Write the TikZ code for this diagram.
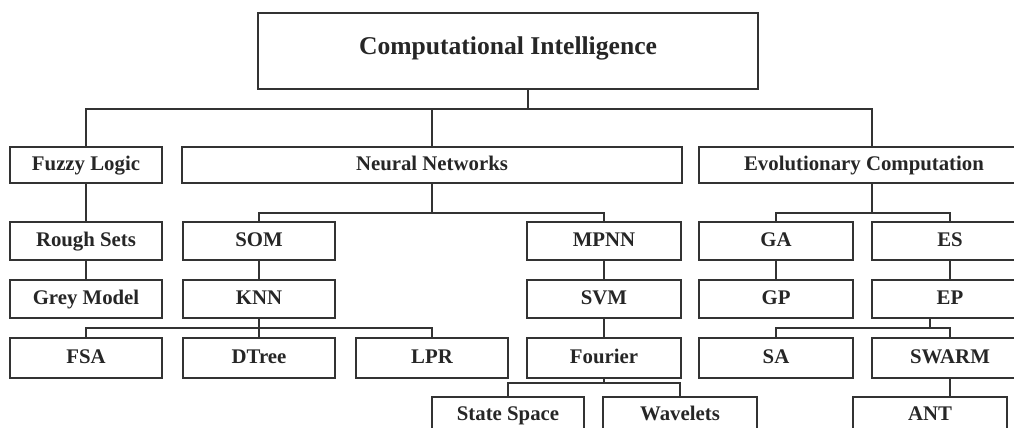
\documentclass[tikz,border=0pt]{standalone}
\usepackage{fontspec}
\setmainfont{Liberation Serif}
\definecolor{ink}{HTML}{333333}
\definecolor{txt}{HTML}{262626}
\tikzset{
  box/.style={draw=ink, line width=2pt, rectangle, inner sep=0pt,
    text=txt, font=\bfseries\fontsize{20.8}{24}\selectfont,
    text height=14pt, text depth=3pt, anchor=center},
  titlebox/.style={box, font=\bfseries\fontsize{25.6}{30}\selectfont,
    text height=16pt, text depth=8pt},
  link/.style={draw=ink, line width=2pt}
}
\begin{document}
\begin{tikzpicture}[x=1pt, y=-1pt]
\useasboundingbox (0,0) rectangle (1014,428);
\clip (0,0) rectangle (1014,428);

% root
\node[titlebox, minimum width=500pt, minimum height=76pt] (ci) at (508,51) {Computational Intelligence};

% first level
\node[box, minimum width=152pt, minimum height=36pt] (fl) at (86,165)  {Fuzzy Logic};
\node[box, minimum width=500pt, minimum height=36pt] (nn) at (432,165) {Neural Networks};
\node[box, minimum width=330pt, minimum height=36pt] (ec) at (864,165) {Evolutionary Computation};

% second level
\node[box, minimum width=152pt, minimum height=38pt] (rs)   at (86,241)  {Rough Sets};
\node[box, minimum width=152pt, minimum height=38pt] (som)  at (259,241) {SOM};
\node[box, minimum width=154pt, minimum height=38pt] (mpnn) at (604,241) {MPNN};
\node[box, minimum width=154pt, minimum height=38pt] (ga)   at (776,241) {GA};
\node[box, minimum width=156pt, minimum height=38pt] (es)   at (950,241) {ES};

% third level
\node[box, minimum width=152pt, minimum height=38pt] (gm)  at (86,299)  {Grey Model};
\node[box, minimum width=152pt, minimum height=38pt] (knn) at (259,299) {KNN};
\node[box, minimum width=154pt, minimum height=38pt] (svm) at (604,299) {SVM};
\node[box, minimum width=154pt, minimum height=38pt] (gp)  at (776,299) {GP};
\node[box, minimum width=156pt, minimum height=38pt] (ep)  at (950,299) {EP};

% fourth level
\node[box, minimum width=152pt, minimum height=40pt] (fsa) at (86,358)  {FSA};
\node[box, minimum width=152pt, minimum height=40pt] (dt)  at (259,358) {DTree};
\node[box, minimum width=152pt, minimum height=40pt] (lpr) at (432,358) {LPR};
\node[box, minimum width=154pt, minimum height=40pt] (fou) at (604,358) {Fourier};
\node[box, minimum width=154pt, minimum height=40pt] (sa)  at (776,358) {SA};
\node[box, minimum width=156pt, minimum height=40pt] (sw)  at (950,358) {SWARM};

% fifth level
\node[box, minimum width=152pt, minimum height=36pt] (ss)  at (508,415) {State Space};
\node[box, minimum width=154pt, minimum height=36pt] (wv)  at (680,415) {Wavelets};
\node[box, minimum width=154pt, minimum height=36pt] (ant) at (930,415) {ANT};

% junction points of the buses
\coordinate (j0) at (528,109);
\coordinate (j1) at (432,213);
\coordinate (j2) at (259,328);
\coordinate (j3) at (604,383);
\coordinate (j4) at (872,213);
\coordinate (j5) at (930,328);

% root bus
\draw[link] (ci.south -| j0) -- (j0);
\draw[link] (fl.north) |- (j0) -| (nn.north);
\draw[link] (j0) -| (ec.north -| j4);

% fuzzy logic chain
\draw[link] (fl) -- (rs);
\draw[link] (rs) -- (gm);

% neural networks subtree
\draw[link] (nn.south -| j1) -- (j1);
\draw[link] (som.north) |- (j1) -| (mpnn.north);
\draw[link] (som) -- (knn);
\draw[link] (knn.south) -- (j2);
\draw[link] (fsa.north) |- (j2) -| (lpr.north);
\draw[link] (j2) -- (dt.north);
\draw[link] (mpnn) -- (svm);
\draw[link] (svm) -- (fou);
\draw[link] (fou.south) -- (j3);
\draw[link] (ss.north) |- (j3) -| (wv.north);

% evolutionary computation subtree
\draw[link] (ec.south -| j4) -- (j4);
\draw[link] (ga.north) |- (j4) -| (es.north);
\draw[link] (ga) -- (gp);
\draw[link] (es) -- (ep);
\draw[link] (ep.south -| j5) -- (j5);
\draw[link] (sa.north) |- (j5) -| (sw.north);
\draw[link] (sw.south) -- (ant.north -| sw.south);
\end{tikzpicture}
\end{document}
